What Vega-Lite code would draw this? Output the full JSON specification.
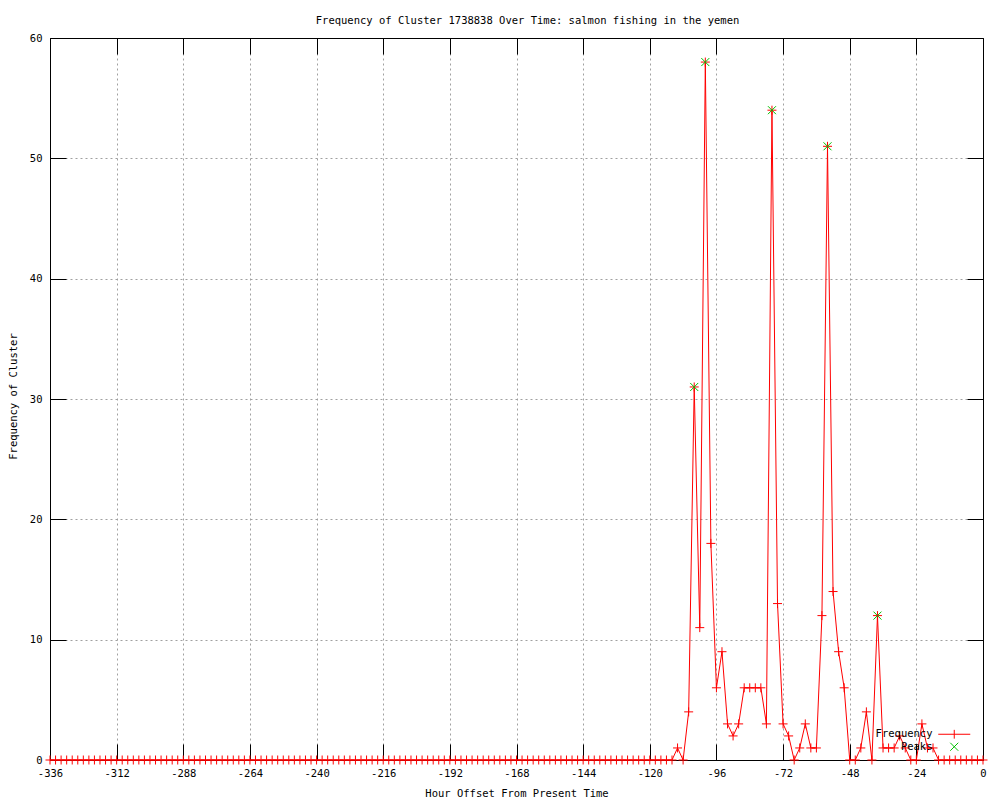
{
 "$schema": "https://vega.github.io/schema/vega-lite/v6.json",
 "autosize": "none",
 "width": 933,
 "height": 722,
 "padding": {"left": 50, "top": 38, "right": 17, "bottom": 40},
 "background": "white",
 "config": {"font": "DejaVu Sans Mono", "view": {"stroke": null}},
 "title": {"text": "Frequency of Cluster 1738838 Over Time: salmon fishing in the yemen", "font": "DejaVu Sans Mono", "fontSize": 10.5, "fontWeight": "normal", "color": "black", "anchor": "middle", "frame": "group", "offset": -1, "baseline": "alphabetic", "dx": 11},
 "datasets": {
  "freq": [
   {"h":-336,"f":0},{"h":-334,"f":0},{"h":-332,"f":0},{"h":-330,"f":0},{"h":-328,"f":0},{"h":-326,"f":0},{"h":-324,"f":0},{"h":-322,"f":0},{"h":-320,"f":0},{"h":-318,"f":0},{"h":-316,"f":0},{"h":-314,"f":0},
   {"h":-312,"f":0},{"h":-310,"f":0},{"h":-308,"f":0},{"h":-306,"f":0},{"h":-304,"f":0},{"h":-302,"f":0},{"h":-300,"f":0},{"h":-298,"f":0},{"h":-296,"f":0},{"h":-294,"f":0},{"h":-292,"f":0},{"h":-290,"f":0},
   {"h":-288,"f":0},{"h":-286,"f":0},{"h":-284,"f":0},{"h":-282,"f":0},{"h":-280,"f":0},{"h":-278,"f":0},{"h":-276,"f":0},{"h":-274,"f":0},{"h":-272,"f":0},{"h":-270,"f":0},{"h":-268,"f":0},{"h":-266,"f":0},
   {"h":-264,"f":0},{"h":-262,"f":0},{"h":-260,"f":0},{"h":-258,"f":0},{"h":-256,"f":0},{"h":-254,"f":0},{"h":-252,"f":0},{"h":-250,"f":0},{"h":-248,"f":0},{"h":-246,"f":0},{"h":-244,"f":0},{"h":-242,"f":0},
   {"h":-240,"f":0},{"h":-238,"f":0},{"h":-236,"f":0},{"h":-234,"f":0},{"h":-232,"f":0},{"h":-230,"f":0},{"h":-228,"f":0},{"h":-226,"f":0},{"h":-224,"f":0},{"h":-222,"f":0},{"h":-220,"f":0},{"h":-218,"f":0},
   {"h":-216,"f":0},{"h":-214,"f":0},{"h":-212,"f":0},{"h":-210,"f":0},{"h":-208,"f":0},{"h":-206,"f":0},{"h":-204,"f":0},{"h":-202,"f":0},{"h":-200,"f":0},{"h":-198,"f":0},{"h":-196,"f":0},{"h":-194,"f":0},
   {"h":-192,"f":0},{"h":-190,"f":0},{"h":-188,"f":0},{"h":-186,"f":0},{"h":-184,"f":0},{"h":-182,"f":0},{"h":-180,"f":0},{"h":-178,"f":0},{"h":-176,"f":0},{"h":-174,"f":0},{"h":-172,"f":0},{"h":-170,"f":0},
   {"h":-168,"f":0},{"h":-166,"f":0},{"h":-164,"f":0},{"h":-162,"f":0},{"h":-160,"f":0},{"h":-158,"f":0},{"h":-156,"f":0},{"h":-154,"f":0},{"h":-152,"f":0},{"h":-150,"f":0},{"h":-148,"f":0},{"h":-146,"f":0},
   {"h":-144,"f":0},{"h":-142,"f":0},{"h":-140,"f":0},{"h":-138,"f":0},{"h":-136,"f":0},{"h":-134,"f":0},{"h":-132,"f":0},{"h":-130,"f":0},{"h":-128,"f":0},{"h":-126,"f":0},{"h":-124,"f":0},{"h":-122,"f":0},
   {"h":-120,"f":0},{"h":-118,"f":0},{"h":-116,"f":0},{"h":-114,"f":0},{"h":-112,"f":0},{"h":-110,"f":1},{"h":-108,"f":0},{"h":-106,"f":4},{"h":-104,"f":31},{"h":-102,"f":11},{"h":-100,"f":58},{"h":-98,"f":18},
   {"h":-96,"f":6},{"h":-94,"f":9},{"h":-92,"f":3},{"h":-90,"f":2},{"h":-88,"f":3},{"h":-86,"f":6},{"h":-84,"f":6},{"h":-82,"f":6},{"h":-80,"f":6},{"h":-78,"f":3},{"h":-76,"f":54},{"h":-74,"f":13},
   {"h":-72,"f":3},{"h":-70,"f":2},{"h":-68,"f":0},{"h":-66,"f":1},{"h":-64,"f":3},{"h":-62,"f":1},{"h":-60,"f":1},{"h":-58,"f":12},{"h":-56,"f":51},{"h":-54,"f":14},{"h":-52,"f":9},{"h":-50,"f":6},
   {"h":-48,"f":0},{"h":-46,"f":0},{"h":-44,"f":1},{"h":-42,"f":4},{"h":-40,"f":0},{"h":-38,"f":12},{"h":-36,"f":1},{"h":-34,"f":1},{"h":-32,"f":1},{"h":-30,"f":2},{"h":-28,"f":1},{"h":-26,"f":0},
   {"h":-24,"f":0},{"h":-22,"f":3},{"h":-20,"f":1},{"h":-18,"f":1},{"h":-16,"f":0},{"h":-14,"f":0},{"h":-12,"f":0},{"h":-10,"f":0},{"h":-8,"f":0},{"h":-6,"f":0},{"h":-4,"f":0},{"h":-2,"f":0},
   {"h":0,"f":0}
  ],
  "peaks": [
   {"h":-104,"f":31},{"h":-100,"f":58},{"h":-76,"f":54},{"h":-56,"f":51},{"h":-38,"f":12}
  ]
 },
 "resolve": {"axis": {"x": "independent", "y": "independent"}},
 "layer": [
  {
   "data": {"name": "freq"},
   "mark": {"type": "line", "color": "#ff0000", "strokeWidth": 1},
   "encoding": {
    "x": {"field": "h", "type": "quantitative", "scale": {"domain": [-336, 0], "nice": false, "zero": false},
     "axis": {"orient": "bottom", "values": [-336,-312,-288,-264,-240,-216,-192,-168,-144,-120,-96,-72,-48,-24,0], "labelExpr": "toString(datum.value)", "tickSize": -16, "tickColor": "black", "domainColor": "black", "grid": true, "gridColor": "#a0a0a0", "gridDash": [2, 3], "labelFont": "DejaVu Sans Mono", "labelFontSize": 10.5, "labelColor": "black", "labelPadding": 24, "labelFlush": false, "labelOverlap": false, "title": "Hour Offset From Present Time", "titleFont": "DejaVu Sans Mono", "titleFontSize": 10.5, "titleFontWeight": "normal", "titleColor": "black", "titleY": 33, "titleBaseline": "middle"}},
    "y": {"field": "f", "type": "quantitative", "scale": {"domain": [0, 60], "nice": false},
     "axis": {"orient": "left", "values": [0,10,20,30,40,50,60], "tickSize": -16, "tickColor": "black", "domainColor": "black", "grid": true, "gridColor": "#a0a0a0", "gridDash": [2, 3], "labelFont": "DejaVu Sans Mono", "labelFontSize": 10.5, "labelColor": "black", "labelPadding": 24, "labelFlush": false, "labelOverlap": false, "title": "Frequency of Cluster", "titleFont": "DejaVu Sans Mono", "titleFontSize": 10.5, "titleFontWeight": "normal", "titleColor": "black", "titleAngle": 270, "titleX": -37, "titleY": 358, "titleBaseline": "middle", "titleAlign": "center"}}
   }
  },
  {
   "data": {"name": "freq"},
   "mark": {"type": "point", "shape": "M-1,0L1,0M0,-1L0,1", "size": 81, "filled": false, "strokeWidth": 1, "opacity": 1},
   "encoding": {
    "x": {"field": "h", "type": "quantitative", "axis": {"orient": "top", "values": [-336,-312,-288,-264,-240,-216,-192,-168,-144,-120,-96,-72,-48,-24,0], "labels": false, "title": null, "grid": false, "tickSize": -16, "tickColor": "black", "domainColor": "black"}},
    "y": {"field": "f", "type": "quantitative", "axis": {"orient": "right", "values": [0,10,20,30,40,50,60], "labels": false, "title": null, "grid": false, "tickSize": -16, "tickColor": "black", "domainColor": "black"}},
    "color": {"datum": "Frequency", "type": "nominal", "scale": {"domain": ["Frequency", "Peaks"], "range": ["#ff0000", "#00c000"]},
     "legend": {"orient": "none", "legendX": 899, "legendY": 691, "title": null, "padding": 0, "symbolSize": 64, "labelAlign": "right", "labelOffset": -27, "labelFont": "DejaVu Sans Mono", "labelFontSize": 10.5, "labelColor": "black", "labelBaseline": "middle", "rowPadding": -0.5, "symbolStrokeWidth": 1,
      "symbolType": {"expr": "datum.value === 'Frequency' ? 'M-4,0L4,0M0,-1.1L0,1.1' : 'M-1,-1L1,1M-1,1L1,-1'"},
      "encode": {"symbols": {
       "fill": {"value": "transparent"},
       "opacity": {"value": 1}}}}}
   }
  },
  {
   "data": {"name": "peaks"},
   "mark": {"type": "point", "shape": "M-1,-1L1,1M-1,1L1,-1", "size": 64, "filled": false, "strokeWidth": 1, "opacity": 1},
   "encoding": {
    "x": {"field": "h", "type": "quantitative", "axis": null},
    "y": {"field": "f", "type": "quantitative", "axis": null},
    "color": {"datum": "Peaks", "type": "nominal"}
   }
  }
 ]
}
